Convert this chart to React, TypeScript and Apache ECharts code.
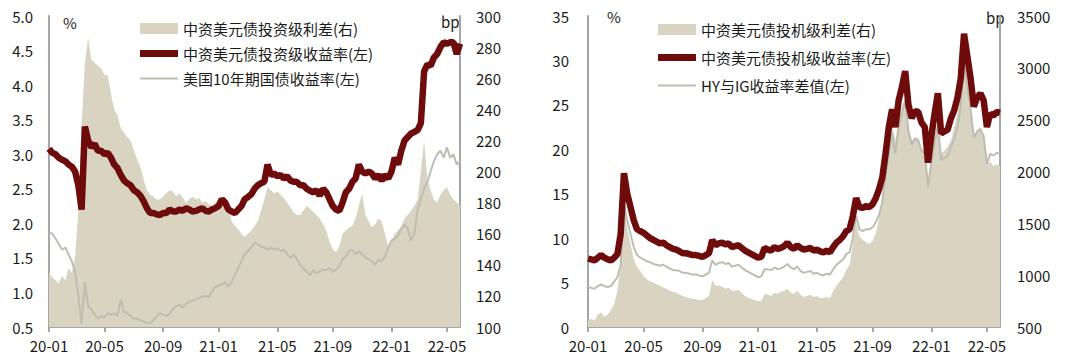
import React, { useEffect, useRef } from "react";
import * as echarts from "echarts";

// Weekly observation dates (Fridays), 2020-01-03 .. 2022-06-03
const dates: string[] = Array.from({ length: 127 }, (_, i) => {
  const d = new Date(Date.UTC(2020, 0, 3 + 7 * i));
  return d.toISOString().slice(0, 10);
});

const leftYTicks = { min: 0.5, max: 5, interval: 0.5 };
const leftY2Ticks = { min: 100, max: 300, interval: 20 };
const rightYTicks = { min: 0, max: 35, interval: 5 };
const rightY2Ticks = { min: 500, max: 3500, interval: 500 };

const IG_SPREAD = "中资美元债投资级利差(右)";
const IG_YIELD = "中资美元债投资级收益率(左)";
const UST = "美国10年期国债收益率(左)";
const HY_SPREAD = "中资美元债投机级利差(右)";
const HY_YIELD = "中资美元债投机级收益率(左)";
const HY_IG = "HY与IG收益率差值(左)";

// IG yield, %
const igYield = [
  3.08, 3.02, 3.0, 2.95, 2.92, 2.9, 2.85, 2.82, 2.75, 2.55,
  2.2, 3.4, 3.2, 3.1, 3.15, 3.05, 3.05, 3.0, 3.02, 2.95,
  2.85, 2.8, 2.7, 2.62, 2.58, 2.55, 2.48, 2.45, 2.4, 2.32,
  2.22, 2.15, 2.15, 2.13, 2.12, 2.15, 2.15, 2.2, 2.17, 2.17,
  2.2, 2.18, 2.22, 2.2, 2.17, 2.18, 2.2, 2.22, 2.18, 2.17,
  2.2, 2.22, 2.25, 2.35, 2.3, 2.2, 2.17, 2.15, 2.2, 2.25,
  2.35, 2.38, 2.42, 2.5, 2.55, 2.58, 2.6, 2.85, 2.7, 2.72,
  2.68, 2.7, 2.65, 2.68, 2.62, 2.6, 2.6, 2.55, 2.55, 2.5,
  2.47, 2.45, 2.48, 2.4, 2.5, 2.45, 2.35, 2.25, 2.2, 2.18,
  2.3, 2.45, 2.5, 2.6, 2.65, 2.85, 2.75, 2.72, 2.75, 2.72,
  2.65, 2.7, 2.62, 2.7, 2.65, 2.75, 2.95, 2.85, 3.05, 3.2,
  3.25, 3.3, 3.32, 3.35, 3.45, 4.2, 4.3, 4.28, 4.4, 4.45,
  4.55, 4.62, 4.6, 4.62, 4.62, 4.45, 4.6,
];

// US 10Y treasury yield, %
const ust10y = [
  1.87, 1.85, 1.78, 1.7, 1.62, 1.65, 1.55, 1.45, 1.3, 0.95,
  0.55, 1.15, 0.8, 0.75, 0.68, 0.62, 0.66, 0.64, 0.7, 0.68,
  0.7, 0.66, 0.9, 0.72, 0.7, 0.66, 0.62, 0.62, 0.6, 0.58,
  0.56, 0.55, 0.6, 0.65, 0.7, 0.68, 0.66, 0.7, 0.76, 0.8,
  0.82, 0.78, 0.84, 0.86, 0.88, 0.9, 0.92, 0.94, 0.95, 0.93,
  1.02, 1.08, 1.1, 1.12, 1.15, 1.08, 1.15, 1.25, 1.35, 1.45,
  1.55, 1.6, 1.65, 1.72, 1.7, 1.66, 1.65, 1.62, 1.65, 1.62,
  1.64, 1.6, 1.62, 1.55, 1.5, 1.55, 1.48, 1.4, 1.35, 1.3,
  1.25, 1.32, 1.28, 1.3, 1.33, 1.32, 1.35, 1.3, 1.33, 1.38,
  1.48, 1.52, 1.6, 1.62, 1.55, 1.6, 1.55, 1.5, 1.48, 1.45,
  1.4, 1.48, 1.45, 1.52, 1.65, 1.75, 1.78, 1.82, 1.92, 1.98,
  1.92, 1.75, 1.85, 2.2, 2.35, 2.5, 2.6, 2.75, 2.9, 3.0,
  3.05, 2.95, 3.1, 2.95, 3.0, 2.85, 2.9,
];

// IG spread, bp
const igSpread = [
  135, 132, 130, 128, 133, 130, 138, 135, 145, 175,
  230, 270, 286, 272, 270, 268, 266, 262, 262, 250,
  240, 236, 228, 225, 222, 220, 214, 208, 203, 195,
  188, 185, 184, 182, 182, 184, 186, 188, 187, 184,
  186, 183, 180, 182, 184, 182, 183, 180, 181, 179,
  178, 180, 182, 180, 180, 176, 168, 165, 163, 160,
  158, 160, 162, 165, 168, 175, 182, 190, 188, 186,
  187, 185, 183, 180, 177, 174, 172, 172, 175, 178,
  176, 174, 172, 170, 166, 162, 155, 150, 148, 152,
  160, 162, 164, 165, 170, 178, 186, 172, 168, 164,
  166, 170, 168, 160, 152, 155, 160, 162, 165, 170,
  172, 175, 178, 182, 200, 220, 195, 188, 182, 180,
  185, 188, 190, 185, 182, 180, 178,
];

// HY yield, %
const hyYield = [
  7.7, 7.6, 7.5, 7.8, 8.1, 7.8, 7.6, 7.5, 7.8, 8.2,
  10.5, 17.3, 15.0, 13.5, 12.0, 11.0, 10.8, 10.6, 10.3, 10.0,
  9.8, 9.6, 9.4, 9.5, 9.2, 9.0, 8.8, 8.7, 8.5, 8.3,
  8.3, 8.2, 8.1, 8.1, 8.0, 7.9, 8.1, 8.3, 9.8, 9.2,
  9.4, 9.5, 9.3, 9.4, 9.0, 9.1, 9.2, 8.9, 8.6, 8.4,
  8.2, 8.0, 7.8, 7.9, 8.9, 8.7, 8.6, 9.0, 8.8, 8.9,
  9.1, 9.5, 9.0, 8.8, 9.2, 8.9, 8.7, 8.8, 8.9, 8.6,
  8.7, 8.5, 8.4, 8.6, 8.4, 9.0, 9.5, 9.8, 10.2, 10.8,
  11.0, 12.5, 14.5, 13.5, 13.4, 13.6, 13.5, 13.8, 14.5, 15.5,
  16.8, 19.5, 22.5, 24.5, 22.5, 25.5, 27.0, 28.8, 25.0, 23.5,
  24.3, 24.2, 23.0, 22.5, 18.5, 21.5, 24.0, 26.3, 21.8, 22.0,
  22.2, 23.5, 24.4, 25.8, 28.0, 33.0, 30.5, 28.0, 24.8, 25.8,
  26.3, 25.5, 22.5, 24.0, 23.8, 24.2, 24.1,
];

// HY minus IG yield, %
const hyIgDiff = [
  4.5, 4.4, 4.3, 4.6, 4.8, 4.6, 4.5, 4.6, 5.1, 5.6,
  7.0, 13.8, 12.0, 10.5, 9.0, 8.1, 7.8, 7.6, 7.4, 7.3,
  7.1, 7.0, 6.9, 7.0, 6.8, 6.6, 6.4, 6.4, 6.3, 6.1,
  6.1, 6.0, 5.9, 5.9, 5.8, 5.7, 5.9, 6.1, 7.5, 7.0,
  7.2, 7.3, 7.1, 7.2, 6.8, 6.9, 7.0, 6.7, 6.4, 6.2,
  6.0, 5.8, 5.6, 5.7, 6.5, 6.5, 6.4, 6.7, 6.5, 6.6,
  6.8, 7.1, 6.7, 6.5, 6.8, 6.3, 6.1, 6.2, 6.3, 6.0,
  6.1, 5.9, 5.8, 6.0, 5.9, 6.5, 7.0, 7.3, 7.6, 8.2,
  8.4, 10.0, 12.5, 11.0, 10.8, 11.0, 11.0, 11.2, 11.8, 12.6,
  14.0, 17.0, 19.5, 21.8, 19.5, 22.5, 24.0, 25.5, 22.0, 20.5,
  21.2, 21.0, 19.8, 19.5, 15.8, 18.5, 20.8, 22.8, 18.8, 19.0,
  19.2, 20.3, 21.2, 22.5, 24.8, 30.0, 27.0, 24.5, 21.3, 22.0,
  22.3, 21.5, 18.3, 19.5, 19.3, 19.6, 19.5,
];

// HY spread, bp
const hySpread = [
  560, 580, 560, 620, 640, 600, 620, 660, 720, 850,
  1100, 1700, 1450, 1300, 1150, 1080, 1040, 990, 960, 940,
  930, 910, 900, 880, 870, 850, 840, 830, 810, 800,
  790, 780, 770, 770, 760, 760, 780, 800, 950, 900,
  900, 890, 870, 880, 850, 850, 860, 830, 800, 780,
  770, 760, 750, 750, 820, 810, 800, 830, 820, 840,
  850, 870, 830, 820, 850, 810, 790, 800, 810, 790,
  800, 780, 780, 790, 780, 850, 900, 940, 980, 1050,
  1100, 1300, 1500, 1380, 1340, 1320, 1300, 1330, 1400, 1550,
  1780, 2050, 2280, 2450, 2300, 2500, 2620, 2720, 2430, 2300,
  2330, 2320, 2230, 2200, 1920, 2150, 2350, 2470, 2180, 2200,
  2240, 2300, 2430, 2550, 2760, 3100, 2800, 2600, 2370, 2380,
  2400, 2350, 2050, 2100, 2050, 2070, 2050,
];

const FONT = "'Noto Sans CJK SC', 'Noto Sans', sans-serif";
const BEIGE = "#d9d4c1";
const RED = "#6e0c0c";
const GRAY = "#bdbdb2";
const AXIS = "#a6a6a6";
const TEXT = "#1a1a1a";

// legend icons: thick / thin horizontal bars inside a 38x11 box
const THICK_ICON = "path://M0,0L38,0M0,2H38V9H0ZM0,11L38,11";
const THIN_ICON = "path://M0,0L38,0M0,4.5H38V6.5H0ZM0,11L38,11";

const isTick = (idx: number) => {
  const d = dates[idx];
  if (!d) return false;
  const m = Number(d.slice(5, 7));
  const day = Number(d.slice(8, 10));
  return (m === 1 || m === 5 || m === 9) && day <= 7;
};

const xAxisFor = (gridIndex: number) => ({
  type: "category",
  gridIndex,
  data: dates,
  boundaryGap: false,
  axisLine: { show: true, lineStyle: { color: AXIS, width: 2 } },
  axisTick: {
    show: true,
    interval: (i: number) => isTick(i),
    length: 5,
    lineStyle: { color: AXIS, width: 2 },
  },
  axisLabel: {
    interval: (i: number) => isTick(i),
    formatter: (v: string) => v.slice(2, 4) + "-" + v.slice(5, 7),
    color: TEXT,
    fontSize: 15,
    fontFamily: FONT,
    margin: 11,
  },
  splitLine: { show: false },
});

const yAxisFor = (
  gridIndex: number,
  position: string,
  t: { min: number; max: number; interval: number },
  decimals: number,
  margin: number
) => ({
  type: "value",
  gridIndex,
  position,
  min: t.min,
  max: t.max,
  interval: t.interval,
  axisLine: { show: true, lineStyle: { color: AXIS, width: 2 } },
  axisTick: { show: false },
  splitLine: { show: false },
  axisLabel: {
    formatter: (v: number) => v.toFixed(decimals),
    color: TEXT,
    fontSize: 15,
    fontFamily: FONT,
    margin,
  },
});

export default function App() {
  const ref = useRef<HTMLDivElement>(null);
  useEffect(() => {
    if (!ref.current) return;
    const chart = echarts.init(ref.current, undefined, { renderer: "svg" });
    const legendText = { fontSize: 15, color: TEXT, fontFamily: FONT, lineHeight: 17 };
    chart.setOption({
      animation: false,
      textStyle: { fontFamily: FONT },
      grid: [
        { left: 49, right: 620, top: 16, bottom: 37 },
        { left: 588, right: 80, top: 16, bottom: 37 },
      ],
      xAxis: [xAxisFor(0), xAxisFor(1)],
      yAxis: [
        yAxisFor(0, "left", leftYTicks, 1, 16),
        yAxisFor(0, "right", leftY2Ticks, 0, 16),
        yAxisFor(1, "left", rightYTicks, 0, 19),
        yAxisFor(1, "right", rightY2Ticks, 0, 17),
      ],
      legend: [
        {
          orient: "vertical",
          left: 135,
          top: 15,
          itemWidth: 38,
          itemHeight: 11,
          itemGap: 8,
          textStyle: legendText,
          data: [
            { name: IG_SPREAD, icon: "rect" },
            { name: IG_YIELD, icon: THICK_ICON },
            { name: UST, icon: THIN_ICON },
          ],
        },
        {
          orient: "vertical",
          left: 653,
          top: 16,
          itemWidth: 38,
          itemHeight: 11,
          itemGap: 11,
          textStyle: legendText,
          data: [
            { name: HY_SPREAD, icon: "rect" },
            { name: HY_YIELD, icon: THICK_ICON },
            { name: HY_IG, icon: THIN_ICON },
          ],
        },
      ],
      graphic: [
        { type: "text", left: 63, top: 15, style: { text: "%", fontSize: 15, fill: TEXT, fontFamily: FONT } },
        { type: "text", left: 441, top: 14, style: { text: "bp", fontSize: 15, fill: TEXT, fontFamily: FONT } },
        { type: "text", left: 607, top: 9, style: { text: "%", fontSize: 15, fill: TEXT, fontFamily: FONT } },
        { type: "text", left: 986, top: 10, style: { text: "bp", fontSize: 15, fill: TEXT, fontFamily: FONT } },
      ],
      series: [
        {
          name: IG_SPREAD, type: "line", xAxisIndex: 0, yAxisIndex: 1, data: igSpread,
          symbol: "none", lineStyle: { width: 0, color: BEIGE }, itemStyle: { color: BEIGE },
          areaStyle: { color: BEIGE, opacity: 1, origin: "start" }, z: 1,
        },
        {
          name: UST, type: "line", xAxisIndex: 0, yAxisIndex: 0, data: ust10y,
          symbol: "none", lineStyle: { width: 2, color: GRAY }, itemStyle: { color: GRAY }, z: 2,
        },
        {
          name: IG_YIELD, type: "line", xAxisIndex: 0, yAxisIndex: 0, data: igYield,
          symbol: "none", lineStyle: { width: 6.5, color: RED }, itemStyle: { color: RED }, z: 3,
        },
        {
          name: HY_SPREAD, type: "line", xAxisIndex: 1, yAxisIndex: 3, data: hySpread,
          symbol: "none", lineStyle: { width: 0, color: BEIGE }, itemStyle: { color: BEIGE },
          areaStyle: { color: BEIGE, opacity: 1, origin: "start" }, z: 1,
        },
        {
          name: HY_IG, type: "line", xAxisIndex: 1, yAxisIndex: 2, data: hyIgDiff,
          symbol: "none", lineStyle: { width: 2, color: GRAY }, itemStyle: { color: GRAY }, z: 2,
        },
        {
          name: HY_YIELD, type: "line", xAxisIndex: 1, yAxisIndex: 2, data: hyYield,
          symbol: "none", lineStyle: { width: 6.5, color: RED }, itemStyle: { color: RED }, z: 3,
        },
      ],
    });
    return () => chart.dispose();
  }, []);
  return (
    <div
      ref={ref}
      style={{ position: "absolute", left: 0, top: 0, width: 1080, height: 364 }}
    />
  );
}
